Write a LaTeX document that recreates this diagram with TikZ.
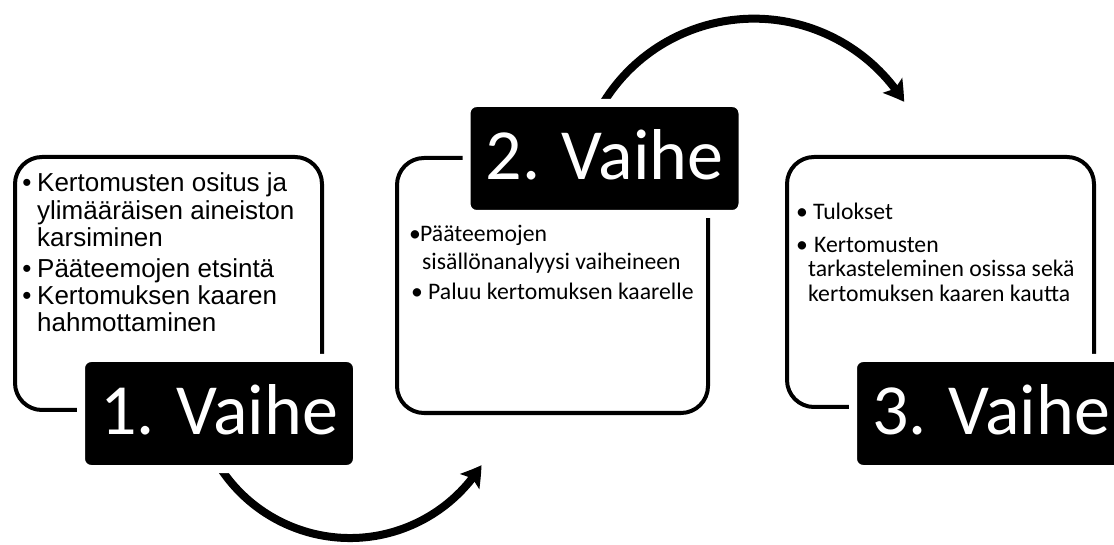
\documentclass[tikz,border=0pt]{standalone}
\usepackage{fontspec}
\setmainfont{Carlito}
\newfontfamily\arialf{Liberation Sans}
\usetikzlibrary{arrows.meta,bending}
\begin{document}
\begin{tikzpicture}[x=1pt,y=1pt,
  frame/.style={draw=black, line width=4pt, rounded corners=27pt, fill=white, inner sep=0pt},
  phase/.style={fill=black, draw=white, line width=8pt, rounded corners=10pt, text=white,
    font=\fontsize{72}{76}\selectfont, minimum width=276pt, minimum height=111pt,
    inner sep=0pt, text height=50pt, text depth=8pt},
  arrowline/.style={line width=8pt, -{Stealth[length=20pt,width=24pt,inset=4pt,bend]}},
  atxt/.style={font=\arialf\fontsize{26}{28}\selectfont, anchor=base west, inner sep=0pt},
  ctxt/.style={font=\fontsize{23.7}{26}\selectfont, anchor=base west, inner sep=0pt},
  abul/.style={font=\arialf\fontsize{26}{28}\selectfont, anchor=base, inner sep=0pt},
  cbul/.style={font=\fontsize{23.7}{26}\selectfont, anchor=base, inner sep=0pt}]
\useasboundingbox (0,0) rectangle (1114,544);
% connectors
\coordinate (a1s) at (209.5,95.5);
\coordinate (a2s) at (597.7,431.4);
\draw[arrowline] (a1s) arc[start angle=205, end angle=328, radius=155];
\draw[arrowline] (a2s) arc[start angle=152, end angle=32, radius=177];
% frames
\node[frame, minimum width=307pt, minimum height=253pt] (box1) at (168.5,260.5) {};
\node[frame, minimum width=311pt, minimum height=255pt] (box2) at (552.5,258.5) {};
\node[frame, minimum width=307pt, minimum height=250pt] (box3) at (940.5,262) {};
% phase labels
\node[phase] (lab1) at (219,130.5) {1. Vaihe};
\node[phase] (lab2) at (604.5,385.5) {2. Vaihe};
\node[phase] (lab3) at (991,130.5) {3. Vaihe};
% box 1 text
\node[abul] (b1a) at (27,352) {•};
\node[atxt] (t1a) at (37,352) {Kertomusten ositus ja};
\node[atxt] (t1b) at (37,324) {ylimääräisen aineiston};
\node[atxt] (t1c) at (37,297) {karsiminen};
\node[abul] (b1b) at (27,266) {•};
\node[atxt] (t1d) at (37,266) {Pääteemojen etsintä};
\node[abul] (b1c) at (27,239) {•};
\node[atxt] (t1e) at (37,239) {Kertomuksen kaaren};
\node[atxt] (t1f) at (37,212) {hahmottaminen};
% box 2 text
\node[cbul] (b2a) at (415,302) {•};
\node[ctxt] (t2a) at (420,302) {Pääteemojen};
\node[ctxt] (t2b) at (422,274) {sisällönanalyysi vaiheineen};
\node[cbul] (b2b) at (417,244) {•};
\node[ctxt] (t2c) at (428,244) {Paluu kertomuksen kaarelle};
% box 3 text
\node[cbul] (b3a) at (802,324) {•};
\node[ctxt] (t3a) at (813,324) {Tulokset};
\node[cbul] (b3b) at (802,291) {•};
\node[ctxt] (t3b) at (814,291) {Kertomusten};
\node[ctxt] (t3c) at (808,267) {tarkasteleminen osissa sekä};
\node[ctxt] (t3d) at (808,242) {kertomuksen kaaren kautta};
\end{tikzpicture}
\end{document}
